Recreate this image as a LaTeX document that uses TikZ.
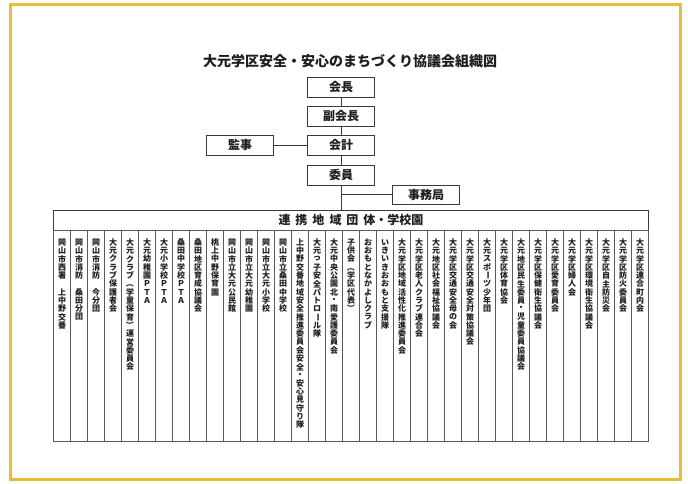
\documentclass[tikz,border=0pt]{standalone}
\usepackage{fontspec}
\setmainfont{Noto Sans CJK JP}
\usepackage{graphicx}
\definecolor{frameyellow}{HTML}{E6BE3A}
\definecolor{linegray}{HTML}{3A3A3A}
\definecolor{colgray}{HTML}{5A5A5A}
\definecolor{inkc}{HTML}{1E1E1E}
\makeatletter
\newcommand\vstk[1]{\vbox{\offinterlineskip\vstk@loop#1\relax}}
\def\vstk@loop#1{\ifx#1\relax\else\hbox to 10pt{\hss\vbox to 8.3pt{\vss\hbox{#1}\vss}\hss}\expandafter\vstk@loop\fi}
\newcommand\vstkx[1]{\expandafter\vstk\expandafter{#1}}
\makeatother
\newcommand\VL{\rotatebox[origin=c]{-90}{ー}}
\newcommand\VPL{\rotatebox[origin=c]{-90}{（}}
\newcommand\VPR{\rotatebox[origin=c]{-90}{）}}
\begin{document}
\begin{tikzpicture}[x=1pt,y=1pt,
  orgbox/.style={draw=linegray,line width=0.9pt,minimum width=67pt,minimum height=20pt,inner sep=0pt,font=\fontsize{12}{12}\selectfont\bfseries,text=inkc},
  headbox/.style={draw=linegray,line width=0.9pt,minimum width=595pt,minimum height=20pt,inner sep=0pt,font=\fontsize{12}{12}\selectfont\bfseries,text=inkc},
  colbox/.style={draw=colgray,line width=0.8pt,minimum width=17pt,minimum height=211pt,inner sep=0pt,anchor=north},
  coltext/.style={inner sep=0pt,anchor=north,font=\fontsize{8}{8}\selectfont\bfseries,text=inkc},
  conn/.style={draw=linegray,line width=0.9pt}]
\useasboundingbox (0,0) rectangle (688,-484);
\fill[white] (0,0) rectangle (688,-484);
\draw[frameyellow,line width=3pt] (10,-5) rectangle (680,-479);
\node[font=\fontsize{14}{14}\selectfont\bfseries,text=inkc] (title) at (350,-61) {大元学区安全・安心のまちづくり協議会組織図};
\node[orgbox] (kaicho) at (341,-87) {会長};
\node[orgbox] (fuku) at (341,-116) {副会長};
\node[orgbox] (kaikei) at (341,-145) {会計};
\node[orgbox] (kanji) at (240,-145) {監事};
\node[orgbox] (iin) at (341,-175) {委員};
\node[orgbox,minimum height=19pt] (jimu) at (426,-194.5) {事務局};
\node[headbox] (head) at (351,-220) {連\hspace{5pt}携\hspace{5pt}地\hspace{5pt}域\hspace{5pt}団\hspace{5pt}体・学校園};
\draw[conn] (kaicho) -- (fuku);
\draw[conn] (fuku) -- (kaikei);
\draw[conn] (kaikei) -- (iin);
\draw[conn] (kanji) -- (kaikei);
\draw[conn] (iin.south) -- (iin.south |- head.north);
\coordinate (jj) at (iin.south |- jimu.west);
\draw[conn] (jj) -- (jimu.west);
\foreach \t [count=\i] in {
 岡山市西署　上中野交番,
 岡山市消防　桑田分団,
 岡山市消防　今分団,
 大元クラブ保護者会,
 大元クラブ\VPL 学童保育\VPR 運営委員会,
 大元幼稚園ＰＴＡ,
 大元小学校ＰＴＡ,
 桑田中学校ＰＴＡ,
 桑田地区育成協議会,
 桃上中野保育園,
 岡山市立大元公民館,
 岡山市立大元幼稚園,
 岡山市立大元小学校,
 岡山市立桑田中学校,
 上中野交番地域安全推進委員会安全・安心見守り隊,
 大元っ子安全パトロ\VL ル隊,
 大元中央公園北・南愛護委員会,
 子供会\VPL 学区代表\VPR,
 おおもとなかよしクラブ,
 いきいきおおもと支援隊,
 大元学区地域活性化推進委員会,
 大元学区老人クラブ連合会,
 大元地区社会福祉協議会,
 大元学区交通安全母の会,
 大元学区交通安全対策協議会,
 大元スポ\VL ツ少年団,
 大元学区体育協会,
 大元地区民生委員・児童委員協議会,
 大元学区保健衛生協議会,
 大元学区愛育委員会,
 大元学区婦人会,
 大元学区環境衛生協議会,
 大元学区自主防災会,
 大元学区防火委員会,
 大元学区連合町内会}{
  \node[colbox] (c\i) at ({53.5+17*(\i-0.5)},-230) {};
  \node[coltext] (t\i) at ({53.5+17*(\i-0.5)},-238) {\vstkx{\t}};
}
\end{tikzpicture}
\end{document}
